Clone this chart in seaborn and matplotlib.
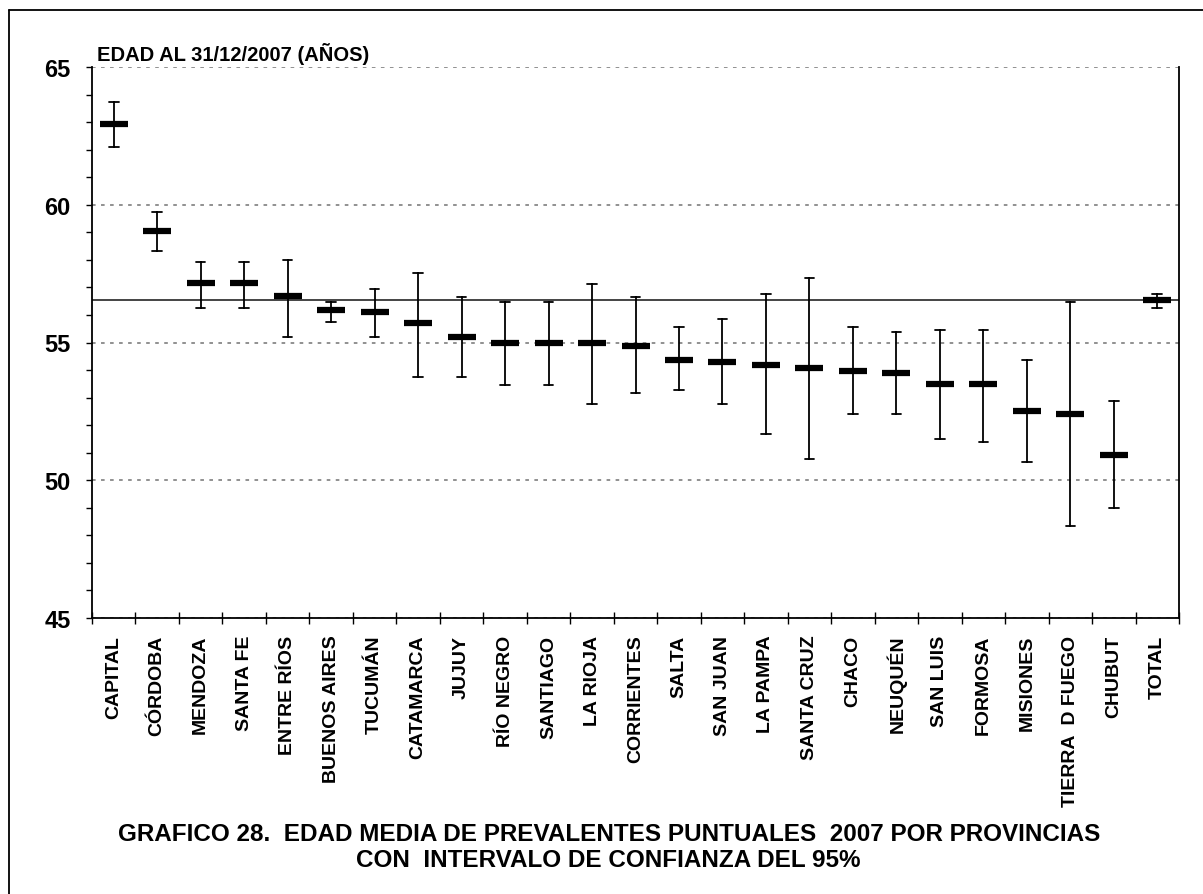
import numpy as np
import pandas as pd
import matplotlib
matplotlib.use("Agg")
import matplotlib.pyplot as plt
from matplotlib.ticker import MultipleLocator, FixedLocator
from matplotlib.lines import Line2D
import seaborn as sns


# DATA

provincias = [
    "CAPITAL", "CÓRDOBA", "MENDOZA", "SANTA FE", "ENTRE RÍOS", "BUENOS AIRES",
    "TUCUMÁN", "CATAMARCA", "JUJUY", "RÍO NEGRO", "SANTIAGO", "LA RIOJA",
    "CORRIENTES", "SALTA", "SAN JUAN", "LA PAMPA", "SANTA CRUZ", "CHACO",
    "NEUQUÉN", "SAN LUIS", "FORMOSA", "MISIONES", "TIERRA  D FUEGO", "CHUBUT",
    "TOTAL",
]
edad_media = [
    62.92, 59.04, 57.17, 57.17, 56.69, 56.18, 56.09, 55.70, 55.21, 54.97,
    54.97, 54.97, 54.87, 54.36, 54.28, 54.17, 54.07, 53.98, 53.88, 53.49,
    53.49, 52.52, 52.41, 50.91, 56.53,
]
ic_inferior = [
    62.09, 58.33, 56.27, 56.27, 55.19, 55.76, 55.19, 53.74, 53.74, 53.46,
    53.46, 52.77, 53.16, 53.27, 52.77, 51.69, 50.77, 52.40, 52.40, 51.50,
    51.40, 50.68, 48.33, 49.01, 56.27,
]
ic_superior = [
    63.72, 59.74, 57.94, 57.94, 58.01, 56.46, 56.95, 57.53, 56.65, 56.47,
    56.47, 57.14, 56.65, 55.56, 55.87, 56.75, 57.33, 55.56, 55.37, 55.47,
    55.47, 54.35, 56.47, 52.88, 56.75,
]
media_total = 56.53

y_ticks = [45, 50, 55, 60, 65]

# long form: median of (low, mean, high) = mean, 100% interval = CI limits
rows = []
for p, lo, m, hi in zip(provincias, ic_inferior, edad_media, ic_superior):
    for v in (lo, m, hi):
        rows.append({"provincia": p, "edad": v})
df = pd.DataFrame(rows)


# FIGURE

sns.set_style("white")
plt.rcParams["font.family"] = ["Liberation Sans", "DejaVu Sans"]
plt.rcParams["text.color"] = "black"
plt.rcParams["xtick.color"] = "black"
plt.rcParams["ytick.color"] = "black"
plt.rcParams["axes.labelcolor"] = "black"

W, H = 1203, 895
fig = plt.figure(figsize=(W / 100, H / 100), dpi=100)
ax = fig.add_axes([92 / W, 1 - 619 / H, (1179 - 92) / W, (619 - 68) / H])

ax.axhline(media_total, color="#444444", linewidth=1.4, zorder=1)

sns.pointplot(
    data=df, x="provincia", y="edad", order=provincias,
    estimator="median", errorbar=("pi", 100),
    linestyle="none", marker="_", markersize=20, markeredgewidth=4.5,
    color="black", capsize=0.22, err_kws={"linewidth": 1.3},
    ax=ax,
)

ax.set_xlim(-0.5, len(provincias) - 0.5)
ax.set_ylim(45, 65)
ax.set_xlabel("")
ax.set_ylabel("")

# y axis
ax.yaxis.set_major_locator(FixedLocator(y_ticks))
ax.yaxis.set_minor_locator(MultipleLocator(1))
ax.tick_params(axis="y", which="both", direction="out", length=4.5, width=1,
               color="black", left=True)
ax.tick_params(axis="y", which="major", labelsize=17, pad=11, labelcolor="black")
for lab in ax.get_yticklabels():
    lab.set_fontweight("bold")

# x axis: labels at centres, ticks at boundaries
ax.xaxis.set_minor_locator(FixedLocator(np.arange(-0.5, len(provincias), 1)))
ax.tick_params(axis="x", which="major", length=0, pad=12, labelsize=14,
               labelcolor="black")
ax.tick_params(axis="x", which="minor", direction="inout", length=9, width=1,
               color="black", bottom=True)
ax.set_xticks(range(len(provincias)))
ax.set_xticklabels(provincias, rotation=90, fontweight="bold")

ax.yaxis.grid(True, which="major", linestyle=(0, (2, 3)), color="#888888",
              linewidth=1.3)
ax.xaxis.grid(False)
ax.set_axisbelow(True)

for side in ["left", "right", "bottom"]:
    ax.spines[side].set_color("black")
    ax.spines[side].set_linewidth(1.3)
ax.spines["top"].set_visible(False)

ax.text(0.005, 1.006, "EDAD AL 31/12/2007 (AÑOS)", transform=ax.transAxes,
        ha="left", va="bottom", fontsize=14.5, fontweight="bold", color="black")

fig.text(0.506, 0.053,
         "GRAFICO 28.  EDAD MEDIA DE PREVALENTES PUNTUALES  2007 POR PROVINCIAS\n"
         "CON  INTERVALO DE CONFIANZA DEL 95%",
         ha="center", va="center", multialignment="center",
         fontsize=17.5, fontweight="bold", linespacing=1.15, color="black")

# outer frame (left and top edges visible)
fig.add_artist(Line2D([9 / W, 9 / W], [0, 1 - 11 / H], transform=fig.transFigure,
                      color="black", linewidth=1.3))
fig.add_artist(Line2D([9 / W, 1], [1 - 11 / H, 1 - 11 / H], transform=fig.transFigure,
                      color="black", linewidth=1.3))

fig.savefig("out.png", dpi=100)
